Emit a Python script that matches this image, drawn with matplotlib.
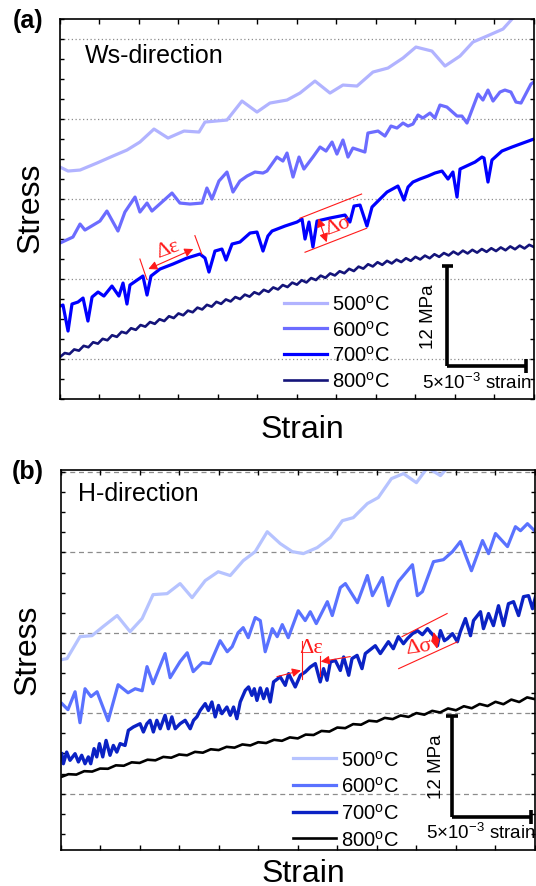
import numpy as np
import matplotlib
matplotlib.use("Agg")
import matplotlib.pyplot as plt
from matplotlib.ticker import MultipleLocator

plt.rcParams["font.family"] = ["Liberation Sans", "DejaVu Sans"]
plt.rcParams["mathtext.fontset"] = "custom"
plt.rcParams["mathtext.rm"] = "Liberation Sans"
plt.rcParams["mathtext.it"] = "Liberation Sans:italic"

# strain in units of 1e-3, stress in arbitrary units (5 units = 12 MPa scale bar)
temps = ["500", "600", "700", "800"]

# ---- panel (a): Ws-direction ----
a500_x = [0.0, 0.51, 1.27, 2.34, 3.35, 4.24, 5.06, 5.95, 6.84, 7.85, 8.80, 9.18, 10.57, 11.52,
          12.47, 13.29, 14.37, 15.19, 16.14, 17.09, 17.91, 18.80, 19.81, 20.76, 21.71, 22.53,
          23.54, 24.37, 25.32, 26.14, 27.03, 28.04, 28.61, 29.11]
a500_y = [11.6, 11.4, 11.45, 11.8, 12.15, 12.45, 12.85, 13.5, 13.05, 13.4, 13.35, 13.85, 13.95,
          14.9, 14.35, 14.8, 14.95, 15.3, 15.9, 15.3, 15.7, 15.65, 16.35, 16.55, 17.05, 17.6,
          17.4, 16.65, 17.15, 17.85, 18.15, 18.5, 19.0, 19.5]

a600_x = [0.0, 0.82, 1.27, 1.58, 2.53, 2.97, 3.67, 4.11, 4.75, 5.06, 5.51, 5.82, 7.09, 7.59,
          8.23, 8.99, 9.30, 9.62, 10.06, 10.57, 10.95, 11.39, 11.84, 12.34, 12.85, 13.10, 13.73,
          14.11, 14.37, 14.75, 15.13, 15.44, 16.01, 16.46, 16.84, 17.22, 17.53, 17.91, 18.23,
          18.54, 19.30, 19.49, 20.13, 20.57, 20.95, 21.33, 21.71, 22.03, 22.34, 22.66, 22.97,
          23.42, 23.73, 24.05, 24.49, 25.13, 25.44, 25.76, 26.46, 26.77, 27.09, 27.41, 27.85,
          28.16, 28.54, 28.86, 29.18, 29.81, 30.0]
a600_y = [7.8, 8.1, 8.75, 8.45, 8.9, 9.4, 8.4, 9.35, 10.1, 9.35, 9.8, 9.4, 10.3, 9.8, 9.75, 9.8,
          10.55, 10.0, 10.9, 11.35, 10.35, 10.9, 11.15, 11.35, 11.3, 11.4, 12.1, 11.9, 12.3,
          11.1, 12.1, 11.5, 12.1, 12.6, 12.4, 12.85, 12.25, 12.95, 12.1, 12.55, 12.35, 13.3,
          13.4, 13.15, 13.65, 13.55, 13.8, 13.65, 13.75, 14.2, 14.05, 14.3, 14.05, 14.7, 14.6,
          14.15, 14.15, 13.8, 15.25, 14.95, 15.45, 14.9, 15.35, 15.45, 15.35, 14.85, 14.8,
          15.75, 15.85]

a700_x = [0.0, 0.19, 0.51, 0.76, 1.14, 1.46, 1.77, 2.03, 2.41, 2.78, 3.29, 3.73, 3.99, 4.24,
          4.43, 5.25, 5.51, 5.76, 6.33, 7.15, 8.04, 8.86, 9.18, 9.43, 9.81, 10.25, 10.51, 10.89,
          11.39, 12.03, 12.47, 12.85, 13.16, 13.42, 14.24, 15.0, 15.32, 15.51, 15.76, 16.01,
          16.27, 17.09, 18.04, 18.35, 18.61, 18.99, 19.43, 19.75, 20.70, 21.39, 21.77, 22.03,
          22.34, 22.78, 23.29, 23.73, 24.18, 24.56, 24.87, 25.13, 25.32, 26.27, 26.71, 26.84,
          27.09, 27.34, 27.97, 28.61, 29.30, 30.0]
a700_y = [4.65, 4.7, 3.4, 4.75, 4.85, 5.05, 3.9, 5.1, 5.35, 5.15, 5.65, 5.15, 5.8, 4.75, 5.7,
          6.15, 5.2, 6.15, 6.5, 6.75, 7.05, 7.25, 7.05, 6.35, 7.4, 7.5, 6.95, 7.75, 7.85, 8.3,
          8.35, 7.4, 8.15, 8.4, 8.65, 8.85, 9.0, 8.0, 8.85, 7.6, 8.9, 9.05, 9.2, 8.85, 9.65, 9.7,
          8.65, 9.6, 10.35, 10.65, 9.95, 10.6, 10.85, 11.0, 11.15, 11.3, 11.4, 11.0, 11.35, 10.1,
          11.5, 11.85, 12.1, 12.05, 10.85, 11.95, 12.4, 12.6, 12.8, 13.0]

a800_x = np.round(np.arange(101) * 0.3, 1)
a800_y = [2.10, 2.30, 2.25, 2.48, 2.42, 2.66, 2.59, 2.84, 2.77, 3.01, 2.94, 3.19, 3.11, 3.36,
          3.29, 3.54, 3.46, 3.70, 3.62, 3.85, 3.76, 3.99, 3.90, 4.14, 4.05, 4.28, 4.19, 4.42,
          4.34, 4.57, 4.48, 4.71, 4.62, 4.86, 4.76, 4.98, 4.88, 5.10, 5.00, 5.22, 5.12, 5.34,
          5.24, 5.46, 5.36, 5.58, 5.48, 5.70, 5.60, 5.82, 5.72, 5.94, 5.83, 6.05, 5.95, 6.17,
          6.06, 6.28, 6.18, 6.39, 6.29, 6.51, 6.40, 6.62, 6.52, 6.74, 6.63, 6.84, 6.71, 6.91,
          6.78, 6.97, 6.85, 7.04, 6.91, 7.11, 6.98, 7.17, 7.04, 7.24, 7.11, 7.30, 7.18, 7.37,
          7.23, 7.42, 7.28, 7.46, 7.32, 7.50, 7.36, 7.54, 7.40, 7.58, 7.44, 7.63, 7.49, 7.67,
          7.53, 7.71, 7.60]

# ---- panel (b): H-direction ----
b500_x = [0.09, 0.41, 1.23, 1.99, 2.69, 3.58, 4.40, 5.16, 5.85, 6.74, 7.56, 8.32, 9.15, 9.97,
          10.73, 11.55, 12.31, 13.07, 13.89, 14.65, 15.35, 16.23, 17.06, 17.82, 18.51, 19.40,
          20.09, 20.92, 21.68, 22.50, 23.20, 24.02, 24.53, 24.97]
b500_y = [8.67, 8.72, 9.81, 9.86, 10.31, 10.86, 10.06, 10.71, 11.90, 11.95, 12.45, 11.75, 12.60,
          13.04, 12.85, 13.59, 14.04, 15.03, 14.44, 14.04, 13.94, 14.24, 14.74, 15.58, 15.73,
          16.43, 16.73, 17.67, 17.92, 17.47, 18.22, 17.82, 18.27, 18.77]

b600_x = [0.09, 0.47, 0.92, 1.23, 1.55, 1.93, 2.31, 3.01, 3.64, 4.27, 4.72, 5.16, 5.47, 5.85,
          6.61, 6.93, 7.56, 8.01, 8.39, 8.96, 9.46, 10.09, 10.54, 10.85, 11.23, 11.55, 11.87,
          12.31, 12.63, 12.94, 13.39, 13.70, 14.02, 14.40, 15.03, 15.47, 15.79, 16.17, 16.87,
          17.18, 17.69, 18.01, 18.77, 19.40, 19.72, 20.35, 20.73, 21.36, 22.25, 22.56, 22.88,
          23.58, 24.21, 24.78, 25.28, 25.98, 26.68, 27.06, 27.50, 28.26, 28.76, 29.08, 29.52,
          30.03]
b600_y = [6.48, 6.18, 7.07, 5.53, 7.22, 6.83, 7.07, 5.63, 7.42, 7.02, 7.22, 7.12, 8.32, 7.47,
          8.97, 7.77, 8.57, 9.01, 8.07, 8.52, 8.47, 9.61, 9.06, 9.31, 10.01, 10.26, 9.76, 10.76,
          10.61, 9.06, 10.21, 9.81, 10.41, 9.76, 11.10, 10.61, 11.05, 10.46, 11.55, 10.86,
          12.25, 12.45, 11.50, 12.85, 11.85, 12.75, 11.35, 12.55, 13.39, 11.85, 12.05, 13.54,
          13.64, 14.04, 14.54, 13.09, 14.59, 13.94, 14.94, 14.29, 15.28, 15.08, 15.43, 15.03]

b700_x = [0.08, 0.18, 0.39, 0.60, 0.92, 1.13, 1.34, 1.55, 1.76, 1.91, 2.12, 2.29, 2.46, 2.67,
          2.88, 3.13, 3.34, 3.56, 3.77, 4.08, 4.29, 4.61, 5.03, 5.24, 5.46, 5.66, 5.87, 6.09,
          6.30, 6.61, 6.82, 7.04, 7.25, 7.56, 7.88, 8.20, 8.41, 8.62, 8.83, 9.15, 9.35, 9.57,
          9.78, 9.99, 10.20, 10.52, 10.73, 10.94, 11.15, 11.36, 11.68, 11.89, 12.10, 12.25,
          12.42, 12.63, 12.84, 13.05, 13.26, 13.47, 13.89, 14.21, 14.42, 14.84, 15.16, 15.47,
          15.79, 16.11, 16.42, 16.63, 16.85, 17.06, 17.37, 17.69, 17.90, 18.22, 18.43, 18.75,
          19.06, 19.27, 19.90, 20.22, 20.73, 21.04, 21.36, 21.68, 21.93, 22.25, 22.56, 22.88,
          23.20, 23.58, 23.83, 24.02, 24.27, 24.46, 24.78, 25.09, 25.28, 25.60, 25.92, 26.11,
          26.55, 26.74, 27.06, 27.37, 27.69, 28.01, 28.32, 28.64, 28.96, 29.27, 29.59, 29.84,
          30.03]
b700_y = [3.99, 3.49, 4.07, 3.66, 3.99, 3.58, 3.91, 3.49, 3.83, 3.49, 4.24, 3.83, 4.49, 3.83,
          4.65, 3.91, 4.40, 4.07, 4.49, 4.40, 5.15, 5.32, 5.48, 5.07, 5.48, 5.65, 5.07, 5.65,
          5.23, 5.90, 5.23, 5.82, 5.23, 5.48, 5.65, 5.23, 5.65, 5.82, 6.14, 6.48, 6.14, 6.56,
          5.82, 6.39, 5.98, 6.31, 5.90, 6.31, 5.73, 6.56, 7.14, 7.31, 6.89, 7.22, 6.64, 7.26,
          6.73, 7.22, 6.56, 7.56, 7.81, 7.39, 7.97, 7.31, 7.89, 8.05, 8.30, 8.47, 7.56, 8.22,
          7.64, 8.55, 8.63, 8.13, 8.80, 7.89, 8.72, 8.88, 8.22, 8.97, 9.36, 8.97, 9.56, 9.21,
          9.81, 9.46, 9.71, 9.96, 10.11, 9.91, 10.21, 9.86, 9.36, 10.11, 9.61, 9.71, 9.96, 9.56,
          10.06, 10.71, 9.86, 10.61, 11.05, 10.21, 10.96, 10.36, 11.35, 10.36, 11.45, 11.55,
          10.86, 11.80, 11.85, 11.20, 11.80]

b800_x = np.round(np.arange(61) * 0.5, 1)
b800_y = [2.82, 2.97, 2.95, 3.12, 3.10, 3.25, 3.24, 3.41, 3.39, 3.56, 3.53, 3.69, 3.66, 3.83,
          3.79, 3.95, 3.91, 4.08, 4.04, 4.21, 4.17, 4.33, 4.29, 4.45, 4.40, 4.56, 4.52, 4.68,
          4.63, 4.80, 4.75, 4.94, 4.92, 5.12, 5.09, 5.29, 5.26, 5.46, 5.43, 5.63, 5.59, 5.77,
          5.71, 5.89, 5.82, 6.01, 5.93, 6.12, 6.04, 6.24, 6.15, 6.35, 6.25, 6.46, 6.36, 6.57,
          6.45, 6.68, 6.56, 6.79, 6.70]

colors_a = ["#b1b3ff", "#6c6cff", "#0000ff", "#14147a"]
colors_b = ["#b6c3ff", "#5a72ff", "#0b22c4", "#000000"]

fig = plt.figure(figsize=(5.36, 8.87), dpi=100)
ax_a = fig.add_axes([0.1119, 0.549, 0.8843, 0.4284])
ax_b = fig.add_axes([0.1129, 0.0406, 0.8853, 0.4284])


def style_axes(ax, ylim, grid_ls):
    ax.set_xlim(0, 30)
    ax.set_ylim(*ylim)
    ax.xaxis.set_major_locator(MultipleLocator(2.5))
    ax.yaxis.set_major_locator(MultipleLocator(1))
    ax.tick_params(direction="in", top=True, right=True, labelbottom=False,
                   labelleft=False, width=1.0, color="black")
    ax.tick_params(axis="x", length=3.8)
    ax.tick_params(axis="y", length=2.6)
    for s in ax.spines.values():
        s.set_linewidth(1.2)
    for g in [2, 6, 10, 14, 18]:
        ax.axhline(g, color="#8c8c8c", lw=0.9, ls=grid_ls, zorder=0)


def legend(ax, lines, anchor, spacing):
    labels = [t + r"$^\mathregular{o}$C" for t in temps]
    ax.legend(lines, labels, loc="lower left", bbox_to_anchor=anchor, frameon=False,
              fontsize=14.5, handlelength=2.15, handletextpad=0.25, labelspacing=spacing,
              borderpad=0, borderaxespad=0)


def scale_bar(ax, x0, y0, lab_v, lab_h):
    k = dict(color="black", lw=2.6, solid_capstyle="butt")
    ax.plot([x0, x0], [y0, y0 + 5], **k)
    ax.plot([x0 - 0.35, x0 + 0.35], [y0 + 5, y0 + 5], **k)
    ax.plot([x0, x0 + 5], [y0, y0], **k)
    ax.plot([x0 + 5, x0 + 5], [y0 - 0.35, y0 + 0.35], **k)
    ax.text(*lab_v, "12 MPa", rotation=90, ha="center", va="center", fontsize=13.5)
    ax.text(*lab_h, r"5$\times$10$^{-3}$ strain", ha="center", va="center", fontsize=13.5)


red = "#ff1a1a"
thin = dict(color=red, lw=0.8)
serif = dict(family="Liberation Serif", color=red, fontsize=16, ha="center", va="center")


def arrow(ax, start, end, style):
    ax.annotate("", xy=end, xytext=start,
                arrowprops=dict(arrowstyle=style, color=red, lw=0.8, mutation_scale=13,
                                shrinkA=0, shrinkB=0))


# ---- draw panel (a)
style_axes(ax_a, (0, 19), (0, (1, 2)))
lines_a = []
for xs, ys, c, w in zip([a500_x, a600_x, a700_x, a800_x], [a500_y, a600_y, a700_y, a800_y],
                        colors_a, [2.3, 2.3, 2.3, 1.9]):
    ln, = ax_a.plot(xs, ys, color=c, lw=w)
    lines_a.append(ln)
legend(ax_a, lines_a, (0.4726, 0.022), 0.28)
scale_bar(ax_a, 24.5, 1.65, (23.3, 4.15), (26.4, 0.85))
ax_a.text(0.053, 0.887, "Ws-direction", transform=ax_a.transAxes, fontsize=18, va="baseline")

ax_a.plot([5.06, 5.49], [7.0, 6.0], **thin)
ax_a.plot([8.54, 8.97], [8.17, 7.25], **thin)
arrow(ax_a, (5.59, 6.5), (8.44, 7.5), "<|-|>")
ax_a.text(6.84, 7.5, "\u0394\u03b5", rotation=20, **serif)
ax_a.plot([15.19, 19.09], [9.04, 10.25], **thin)
ax_a.plot([15.51, 19.41], [7.34, 8.54], **thin)
arrow(ax_a, (16.35, 9.04), (16.88, 7.84), "<|-|>")
ax_a.text(17.6, 8.7, "\u0394\u03c3", rotation=20, **serif)

ax_a.set_ylabel("Stress", fontsize=23)
ax_a.yaxis.set_label_coords(-0.0295, 0.505)
ax_a.set_xlabel("Strain", fontsize=23, va="top")
ax_a.xaxis.set_label_coords(0.512, -0.0395)

# ---- draw panel (b)
style_axes(ax_b, (-0.8, 18.1), (0, (4, 3)))
lines_b = []
for xs, ys, c, w in zip([b500_x, b600_x, b700_x, b800_x], [b500_y, b600_y, b700_y, b800_y],
                        colors_b, [2.3, 2.3, 2.4, 1.9]):
    ln, = ax_b.plot(xs, ys, color=c, lw=w)
    lines_b.append(ln)
legend(ax_b, lines_b, (0.49, 0.002), 0.33)
scale_bar(ax_b, 24.75, 0.85, (23.8, 3.39), (26.55, 0.11))
ax_b.text(0.037, 0.921, "H-direction", transform=ax_b.transAxes, fontsize=18, va="baseline")

ax_b.plot([15.27, 15.27], [9.61, 7.72], **thin)
ax_b.plot([16.38, 16.38], [8.87, 7.87], **thin)
arrow(ax_b, (13.68, 7.82), (15.2, 8.13), "-|>")
arrow(ax_b, (18.32, 8.82), (16.45, 8.57), "-|>")
ax_b.text(15.85, 9.25, "\u0394\u03b5", **serif)
ax_b.plot([21.59, 24.44], [9.81, 10.96], **thin)
ax_b.plot([21.38, 25.08], [8.22, 9.55], **thin)
arrow(ax_b, (23.59, 10.04), (23.81, 9.21), "<|-|>")
ax_b.text(22.63, 9.31, "\u0394\u03c3", rotation=8, **serif)

ax_b.set_ylabel("Stress", fontsize=23)
ax_b.yaxis.set_label_coords(-0.037, 0.529)
ax_b.set_xlabel("Strain", fontsize=23, va="top")
ax_b.xaxis.set_label_coords(0.512, -0.021)

fig.text(0.024, 0.976, "(a)", fontsize=18, fontweight="bold", va="center")
fig.text(0.022, 0.468, "(b)", fontsize=18, fontweight="bold", va="center")

fig.savefig("out.png", dpi=100)
